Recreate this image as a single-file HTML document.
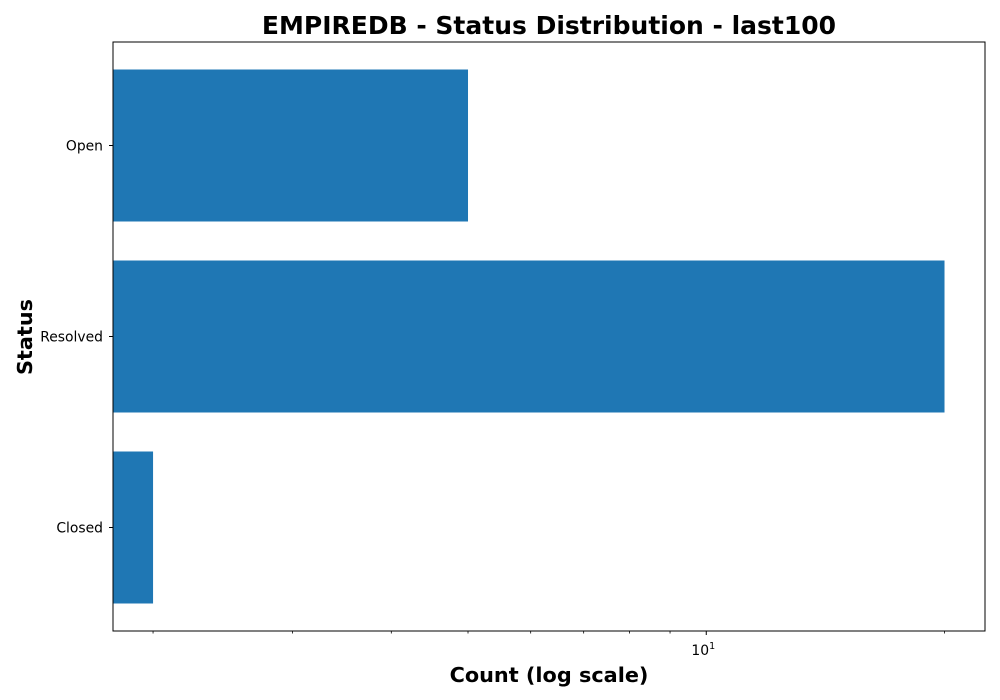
<!DOCTYPE html>
<html><head><meta charset="utf-8"><style>body{margin:0;background:#fff}svg{display:block;font-family:"DejaVu Sans","Liberation Sans",sans-serif}</style></head>
<body>
<svg id="chart" width="1000" height="700">
<rect width="1000" height="700" fill="#fff"/>
<text x="549" y="34" text-anchor="middle" font-size="25" font-weight="bold">EMPIREDB - Status Distribution - last100</text>
<g id="bars"></g>
<g id="axes"></g>
<text x="549" y="682" text-anchor="middle" font-size="20.8" font-weight="bold">Count (log scale)</text>
<text transform="translate(32,337) rotate(-90)" text-anchor="middle" font-size="20.8" font-weight="bold">Status</text>
</svg>
<script>
const categories = ["Open","Resolved","Closed"];
const counts = [5,20,2];
const majorTicks = [10];
const minorTicks = [2,3,4,5,6,7,8,9,20];
const NS="http://www.w3.org/2000/svg";
const L=113,R=985,T=42,B=631;
const lmin=Math.log10(1.78),lmax=Math.log10(22.5);
function xs(v){return L+(Math.log10(v)-lmin)/(lmax-lmin)*(R-L);}
function yc(i){return T+(B-T)/2+(i-(categories.length-1)/2)*191;}
function mk(t,a,p){const e=document.createElementNS(NS,t);for(const k in a)e.setAttribute(k,a[k]);p.appendChild(e);return e;}
const bars=document.getElementById('bars'),axes=document.getElementById('axes');
categories.forEach((c,i)=>{
  const b=mk('rect',{x:L,y:yc(i)-76,width:xs(counts[i])-L,height:152,fill:'#1f77b4'},bars);
  
  
  const tk=mk('line',{x1:L-4,x2:L,y1:yc(i),y2:yc(i),stroke:'#000'},axes);
  
  
  const t=mk('text',{x:L-10,y:yc(i)+5,'text-anchor':'end','font-size':13.9},axes);
  t.textContent=c;
  
  
});
minorTicks.forEach(v=>{const x=xs(v);if(x<L||x>R)return;
  const m=mk('line',{x1:x,x2:x,y1:B,y2:B+2.5,stroke:'#000','stroke-width':0.8},axes);
  
  
});
majorTicks.forEach(v=>{const x=xs(v);
  const m=mk('line',{x1:x,x2:x,y1:B,y2:B+4,stroke:'#000'},axes);
  
  
  const t=mk('text',{x:x-3,y:B+24,'text-anchor':'middle','font-size':13.9},axes);
  t.innerHTML='10<tspan dy="-6" font-size="9.5">'+Math.round(Math.log10(v))+'</tspan>';
  
  
});
const f=mk('rect',{x:L,y:T,width:R-L,height:B-T,fill:'none',stroke:'#000','stroke-width':1},axes);


</script>
</body></html>
